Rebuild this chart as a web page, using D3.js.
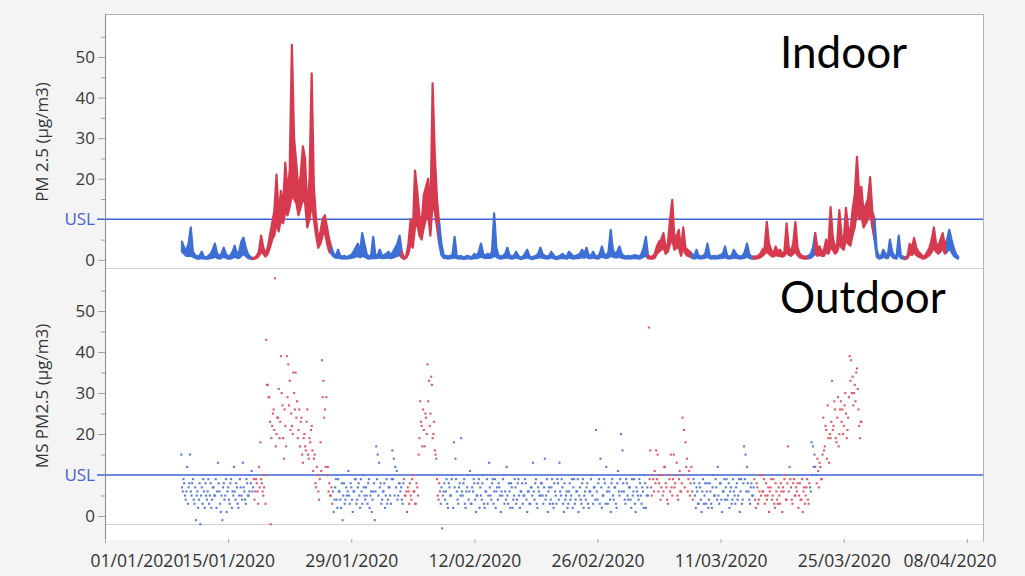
<!DOCTYPE html>
<html>
<head>
<meta charset="utf-8">
<script src="https://cdn.jsdelivr.net/npm/d3@7"></script>
<style>
  html, body { margin: 0; padding: 0; background: #f4f4f4; }
  svg { display: block; }
  text { font-family: "Open Sans", "Noto Sans", sans-serif; }
</style>
</head>
<body>
<svg id="chart" width="1025" height="576"></svg>
<script>
// ---------------- data ----------------
const timeDomain = ["2020-01-01 00:00", "2020-04-09 20:00"];

const xTickDates  = ["2020-01-01 00:00", "2020-01-15 00:00", "2020-01-29 00:00", "2020-02-12 00:00",
                     "2020-02-26 00:00", "2020-03-11 00:00", "2020-03-25 00:00", "2020-04-08 00:00"];
const xTickLabels = ["01/01/2020", "15/01/2020", "29/01/2020", "12/02/2020",
                     "26/02/2020", "11/03/2020", "25/03/2020", "08/04/2020"];

const yMajorTicks = [0, 20, 30, 40, 50];
const yMinorTicks = [5, 15, 25, 35, 45, 55];
const usl = 10;
const panelTitles = ["Indoor", "Outdoor"];
const yTitles = ["PM 2.5 (µg/m3)", "MS PM2.5 (µg/m3)"];

// periods: each entry starts a new period, lasting until the next one
const periodStarts = ["2020-01-01 00:00", "2020-01-17 21:00", "2020-01-26 21:00", "2020-02-04 00:00",
                      "2020-02-08 03:00", "2020-03-02 20:00", "2020-03-07 22:00", "2020-03-14 20:00",
                      "2020-03-21 03:00", "2020-03-21 22:00", "2020-03-28 16:00", "2020-04-01 03:00",
                      "2020-04-05 20:00"];
const periodStatus = ["normal", "episode", "normal", "episode", "normal", "episode", "normal",
                      "episode", "normal", "episode", "normal", "episode", "normal"];

// indoor sensor: highest and lowest reading in each 6-hour window
const indoorStart = "2020-01-09 18:00";
const indoorStepHours = 6;
const indoorHigh = [
  4.5,3,2.5,4,8,2,1.2,0.8,1,2,0.8,0.6,1,1.5,2.5,4,1.5,1,1.5,3,1.5,0.8,1,2,3.5,1.5,2,4.5,5.5,3,1.5,0.8,0.5,
  0.5,1,2,6,3,1.5,3,6,9,12,21,11,17,13,24,17,22,53,30,24,17,21,28,25,12,20,46,18,10,5,7,10,11,8,5,3,
  1.5,1,2.5,1,0.8,1,0.6,1,1.2,2,3,4,2,6.6,4,1.5,0.8,1,5.7,1,1.2,2.5,1,1.2,1.5,2,1,2,3,4,6,2,
  0.5,1,4,10,7,22,17,11,9,16,18,20,10,43.5,26,15,9,
  4,1.2,1,0.8,1,1.2,5.7,1,0.8,1,0.6,0.8,1,0.7,0.8,1.5,1,2,4,1.5,1,1.5,1.2,2,11.5,3,
  1,0.8,1,1.5,3,1.2,0.8,1,2,1,0.6,0.8,1.5,2.5,1,0.6,0.8,1,1.5,3,1.5,1,0.8,1,2,
  1.2,0.6,0.8,1,1.5,1,0.8,2,1.5,0.8,1,1.2,1.5,2.5,1.5,3,1.2,1,2,1,0.8,1.5,3.3,1.5,1,
  2,7.4,2.5,1.5,2,3.3,1.5,1,0.8,1,0.8,1,1.2,1,0.8,1.5,3,5.7,1,
  0.8,0.8,1.5,3.3,4.5,5,6.6,3,4,10,14.8,5,6,7.4,2.5,8,3,2.5,2,1.5,
  0.8,2.5,1,0.8,1,1.5,4,1.2,0.8,1,0.8,1,1.2,1.5,3.3,1,0.8,1,2.5,1.5,1,0.8,1,2,4,1.5,0.8,0.8,
  0.8,1,1.5,2.5,3,9.4,4,2.5,1.5,3.3,2,2.5,1.5,2,9,3,2,4,9.4,3,1.5,1,0.8,0.8,1,
  1.5,3,6.6,
  3,3.3,2,2.5,5,3,13,5.7,3,4,12.3,6,5,12.8,8,6.6,12.3,16,25.4,16.5,18,12,13.5,15,20.4,12,10,
  2.5,0.8,1,2.5,1.5,1,5,2,1,0.8,6,1,0.8,0.6,
  1,4,3,5.4,3,2,1.5,0.8,1,2,3,5,8,4,3.5,5,6.6,3.5,5,
  7.4,5,3,1.5,0.8
];
const indoorLow = [
  2,1.5,1,1,1,0.8,0.5,0.3,0.3,0.5,0.3,0.3,0.3,0.5,0.5,0.8,0.5,0.3,0.5,0.8,0.5,0.3,0.3,0.5,0.8,0.5,0.5,1,1.5,1,0.5,0.3,0.2,
  0.3,0.5,1,2,1.5,0.8,1.5,3,5,6,9,7,10,9,12,11,13,16,15,14,11,13,15,14,8,10,14,10,6,3,4,6,7,4,2,1.5,
  0.8,0.5,0.6,0.4,0.3,0.4,0.3,0.4,0.5,0.6,0.8,1,0.6,1,0.8,0.5,0.3,0.4,0.5,0.4,0.5,0.6,0.4,0.5,0.5,0.6,0.4,0.6,0.8,1,1.2,0.6,
  0.2,0.5,1.5,4,3,8,9,6,5,8,10,11,6,14,12,8,4,
  1.2,0.5,0.4,0.3,0.4,0.5,0.6,0.4,0.3,0.4,0.2,0.3,0.4,0.3,0.3,0.5,0.4,0.6,0.8,0.6,0.4,0.5,0.5,0.6,1,0.8,
  0.4,0.3,0.4,0.5,0.6,0.4,0.3,0.4,0.6,0.4,0.2,0.3,0.5,0.6,0.4,0.2,0.3,0.4,0.5,0.7,0.5,0.4,0.3,0.4,0.6,
  0.4,0.2,0.3,0.4,0.5,0.4,0.3,0.6,0.5,0.3,0.4,0.4,0.5,0.7,0.5,0.8,0.4,0.4,0.6,0.4,0.3,0.5,0.8,0.6,0.4,
  0.6,1,0.8,0.6,0.6,0.8,0.5,0.4,0.3,0.4,0.3,0.4,0.4,0.4,0.3,0.5,0.8,1,0.4,
  0.3,0.3,0.5,1.5,2,2.5,3,1.5,2,4,5,2.5,3,3,1,3,1.5,1,0.8,0.6,
  0.3,0.6,0.4,0.3,0.4,0.5,0.8,0.4,0.3,0.4,0.3,0.4,0.4,0.5,0.7,0.4,0.3,0.4,0.6,0.5,0.4,0.3,0.4,0.5,0.8,0.5,0.3,0.3,
  0.3,0.4,0.6,1,1.5,2,1.5,1,0.8,1.2,1,1,0.8,1,2,1.2,1,1.5,2,1.2,0.6,0.4,0.3,0.3,0.4,
  0.5,1,1.5,
  1,1.2,1,1,2,1.5,3,2.5,1.5,2,4,3,2.5,5,4,3.5,6,8,12,10,11,8,9,10,12,8,5,
  0.8,0.3,0.4,0.8,0.5,0.4,1.5,0.8,0.4,0.3,1.5,0.4,0.3,0.2,
  0.4,1.5,1.2,2,1.2,0.8,0.6,0.3,0.4,0.8,1.2,2,3,2,1.5,2,3,1.5,2,
  3,2,1,0.6,0.3
];

// outdoor monitoring station, one reading every 2 hours
const outdoorStart = "2020-01-09 16:00";
const outdoorStepHours = 2;
const outdoorValues = [
  15,7,6,9,8,5,4,6,12,3,7,8,   15,6,5,8,9,4,3,7,-1,5,6,2,   4,8,-2,5,7,3,9,6,2,8,5,4,
  6,9,3,5,8,2,4,7,7,5,5,9,     2,6,13,8,6,3,1,5,-1,7,8,4,   5,9,1,6,7,4,3,8,9,2,6,5,
  12,6,4,8,7,3,2,5,9,7,5,4,    13,7,6,4,3,9,8,5,5,6,10,8,   11,6,7,9,4,6,9,8,6,3,12,7,
  18,9,8,6,5,7,10,3,43,32,32,29,  29,23,-2,19,22,25,26,21,58,17,20,24,  24,31,19,23,39,30,27,19,14,26,22,17,
  39,29,37,27,33,21,25,22,20,35,30,26,  35,24,28,19,21,26,17,23,24,15,13,19,  20,17,16,23,26,15,14,19,18,21,22,16,
  11,14,15,8,7,12,10,6,4,9,18,11,  38,29,33,24,26,12,29,10,12,6,8,5,  5,7,3,6,1,4,7,9,4,2,9,6,
  6,4,2,8,-1,5,8,3,4,7,5,6,    11,5,3,8,7,4,1,6,6,9,9,3,    4,7,8,5,2,9,6,3,10,7,5,4,
  7,5,3,8,9,2,5,6,1,4,6,8,     -1,6,17,9,15,5,13,7,8,3,4,6, 6,8,2,5,9,3,4,7,7,5,3,9,
  16,9,14,5,12,7,11,4,5,8,8,6, 7,4,3,8,9,5,5,6,1,7,6,3,     8,5,4,9,10,6,6,3,3,8,7,5,
  15,19,28,23,22,17,26,21,17,25,24,20,  37,28,33,22,25,34,32,19,20,23,16,15,  14,9,5,4,8,6,3,7,-3,5,6,8,
  4,6,9,3,2,8,7,5,5,9,10,2,    18,7,14,9,6,4,3,7,8,5,19,6,  5,8,9,3,2,6,7,10,4,6,11,3,
  3,7,6,9,8,4,1,5,5,8,9,2,     7,5,4,8,10,3,2,6,6,9,3,5,    13,7,5,4,8,9,3,6,9,2,6,7,
  4,8,7,5,1,6,5,9,10,3,6,4,    12,5,3,8,6,2,8,7,2,4,5,9,    7,3,4,8,9,5,2,6,6,8,3,5,
  5,9,8,4,1,6,6,3,3,7,7,5,     13,6,4,8,9,3,2,7,6,5,5,8,    8,5,3,7,14,4,5,9,1,6,7,3,
  4,7,9,3,2,8,6,5,3,9,8,4,     13,6,5,9,7,3,1,8,4,5,6,2,    3,6,8,4,5,9,2,7,9,3,4,6,
  6,9,1,5,7,4,3,8,9,2,5,6,     4,7,8,3,2,6,6,9,10,5,3,7,    7,4,21,6,4,8,9,3,14,7,2,5,
  5,9,8,3,12,6,3,7,6,4,1,8,    9,5,4,7,7,3,2,8,11,6,5,9,    20,6,16,8,6,4,3,9,8,5,4,7,
  7,4,2,9,5,6,9,3,1,7,6,5,     4,9,8,5,3,7,6,2,10,8,2,5,    7,5,46,9,16,7,5,10,9,6,11,8,
  16,9,15,6,8,10,4,7,10,5,6,12,  12,8,7,4,3,10,9,6,15,7,5,9,  15,7,8,10,13,5,4,9,11,6,6,8,
  24,10,21,7,18,12,14,6,9,11,5,8,  12,6,4,9,8,5,2,7,6,3,3,8,  7,4,1,6,9,3,5,8,3,6,8,2,
  4,8,6,3,2,7,10,5,5,9,7,4,    12,5,3,8,8,4,1,6,6,9,4,7,    9,4,5,8,2,6,7,3,4,9,6,5,
  3,7,8,4,5,9,1,6,9,3,4,8,     17,9,15,6,12,8,6,4,3,7,8,5,  5,7,9,4,2,8,7,3,4,6,10,5,
  10,6,6,9,3,5,8,4,5,7,1,6,    7,9,4,5,9,3,2,8,6,4,3,7,     5,3,8,6,1,7,6,9,10,4,4,8,
  17,6,12,9,7,4,3,8,9,5,5,7,   6,8,2,5,8,4,4,9,1,6,7,3,     5,7,9,4,3,8,7,6,18,10,17,12,
  15,12,10,8,14,11,7,13,12,9,9,15,  24,16,17,22,21,14,27,19,13,20,19,23,  33,21,22,28,26,19,18,24,29,17,20,26,
  28,23,26,20,22,27,30,25,19,21,24,29,  39,33,38,30,34,27,30,32,28,35,36,31,  26,22,19,23,23
];

// ---------------- drawing ----------------
const parseTime = d3.timeParse("%Y-%m-%d %H:%M");
const colors = { normal: "#3d6fd6", episode: "#d73a4f" };
const dotColors = { normal: "#5a7cd6", episode: "#dc5a67" };

const svg = d3.select("#chart");
const plot = { left: 105, right: 983, top: 14, bottom: 540 };

const x = d3.scaleTime()
  .domain(timeDomain.map(parseTime))
  .range([plot.left, plot.right]);

const yIn  = d3.scaleLinear().domain([-2, 60.6]).range([268, plot.top]);
const yOut = d3.scaleLinear().domain([-5.85, 60.5]).range([plot.bottom, 268]);

const periodDates = periodStarts.map(parseTime);
const statusAt = t => periodStatus[Math.max(0, d3.bisectRight(periodDates, t) - 1)];

const t0In = parseTime(indoorStart);
const indoor = indoorHigh.map((hi, i) => {
  const t = d3.timeHour.offset(t0In, i * indoorStepHours);
  return { t, hi, lo: indoorLow[i], s: statusAt(t) };
});
const t0Out = parseTime(outdoorStart);
const outdoor = outdoorValues.map((v, i) => {
  const t = d3.timeHour.offset(t0Out, i * outdoorStepHours);
  return { t, v, s: statusAt(t) };
});

// plot background and frame
svg.append("rect")
  .attr("x", plot.left).attr("y", plot.top)
  .attr("width", plot.right - plot.left).attr("height", plot.bottom - plot.top)
  .attr("fill", "#ffffff");

svg.append("line")
  .attr("x1", plot.left).attr("x2", plot.right)
  .attr("y1", plot.top + 0.5).attr("y2", plot.top + 0.5)
  .attr("stroke", "#b4b4b4");
svg.append("line")
  .attr("x1", plot.right + 0.5).attr("x2", plot.right + 0.5)
  .attr("y1", plot.top).attr("y2", plot.bottom + 2)
  .attr("stroke", "#b4b4b4");

// lower boundary line of each panel
[[yIn, -2], [yOut, -2]].forEach(([y, v]) => {
  svg.append("line")
    .attr("x1", plot.left).attr("x2", plot.right)
    .attr("y1", Math.round(y(v)) + 0.5).attr("y2", Math.round(y(v)) + 0.5)
    .attr("stroke", "#cfcfcf");
});

// y axes
function drawYAxis(y, title, titleY) {
  const major = svg.append("g")
    .attr("transform", `translate(${plot.left},0)`)
    .call(d3.axisLeft(y).tickValues(yMajorTicks).tickSize(7).tickPadding(3).tickFormat(d3.format("d")));
  major.select(".domain").remove();
  major.selectAll("line").attr("stroke", "#a0a0a0");
  major.selectAll("text")
    .attr("fill", "#3a3a3a")
    .style("font-size", "17px")
    .style("font-family", "'Open Sans', sans-serif");

  const minor = svg.append("g")
    .attr("transform", `translate(${plot.left},0)`)
    .call(d3.axisLeft(y).tickValues(yMinorTicks).tickSize(4).tickFormat(""));
  minor.select(".domain").remove();
  minor.selectAll("line").attr("stroke", "#a0a0a0");

  // specification limit
  svg.append("line")
    .attr("x1", plot.left - 8).attr("x2", plot.right)
    .attr("y1", y(usl)).attr("y2", y(usl))
    .attr("stroke", "#4062d4").attr("stroke-width", 1.4);
  svg.append("text")
    .attr("x", plot.left - 10).attr("y", y(usl))
    .attr("dy", "0.36em")
    .attr("text-anchor", "end")
    .attr("fill", "#4a63cf")
    .style("font-size", "17px")
    .text("USL");

  svg.append("text")
    .attr("transform", `translate(48,${titleY}) rotate(-90)`)
    .attr("text-anchor", "middle")
    .attr("fill", "#333333")
    .style("font-size", "17px")
    .text(title);
}
drawYAxis(yIn, yTitles[0], 142);
drawYAxis(yOut, yTitles[1], 396);

// left axis line
svg.append("line")
  .attr("x1", plot.left + 0.5).attr("x2", plot.left + 0.5)
  .attr("y1", plot.top).attr("y2", plot.bottom + 2)
  .attr("stroke", "#8a8a8a");

// x axis
const xTicks = xTickDates.map(parseTime);
const xAxis = svg.append("g")
  .attr("transform", `translate(0,${plot.bottom + 3})`)
  .call(d3.axisBottom(x).tickValues(xTicks).tickSize(-4).tickPadding(12)
        .tickFormat((d, i) => xTickLabels[i]));
xAxis.select(".domain").remove();
xAxis.selectAll("line").attr("stroke", "#a8a8a8");
xAxis.selectAll("text")
  .attr("fill", "#333333")
  .style("font-size", "17.5px")
  .style("font-family", "'Open Sans', sans-serif");
// keep end labels inside the figure
xAxis.selectAll("text").each(function(d) {
  const w = this.getComputedTextLength();
  const cx = x(d);
  let shift = 0;
  if (cx - w / 2 < 90) shift = 90 - (cx - w / 2);
  if (cx + w / 2 > 996) shift = 996 - (cx + w / 2);
  d3.select(this).attr("x", shift);
});

// indoor readings: band between the 6-hour low and high, coloured by period
const runs = [];
indoor.forEach((d, i) => {
  if (i === 0 || d.s !== indoor[i - 1].s) {
    runs.push({ s: d.s, pts: i > 0 ? [indoor[i - 1], d] : [d] });
  } else {
    runs[runs.length - 1].pts.push(d);
  }
});
const band = d3.area().x(d => x(d.t)).y0(d => yIn(d.lo)).y1(d => yIn(d.hi));
const gIn = svg.append("g");
runs.forEach(r => {
  gIn.append("path")
    .attr("d", band(r.pts))
    .attr("fill", colors[r.s])
    .attr("stroke", colors[r.s])
    .attr("stroke-width", 2.2)
    .attr("stroke-linejoin", "round");
});

// outdoor readings: scattered points
svg.append("g").selectAll("rect")
  .data(outdoor)
  .join("rect")
  .attr("x", d => x(d.t) - 1)
  .attr("y", d => yOut(d.v) - 1)
  .attr("width", 2.1)
  .attr("height", 2.1)
  .attr("fill", d => dotColors[d.s]);

// panel titles
svg.append("text")
  .attr("x", 780).attr("y", 68)
  .attr("fill", "#000")
  .style("font-family", "Lato, sans-serif")
  .style("font-size", "44px")
  .text(panelTitles[0]);
svg.append("text")
  .attr("x", 780).attr("y", 313)
  .attr("fill", "#000")
  .style("font-family", "Lato, sans-serif")
  .style("font-size", "44px")
  .text(panelTitles[1]);
</script>
</body>
</html>
